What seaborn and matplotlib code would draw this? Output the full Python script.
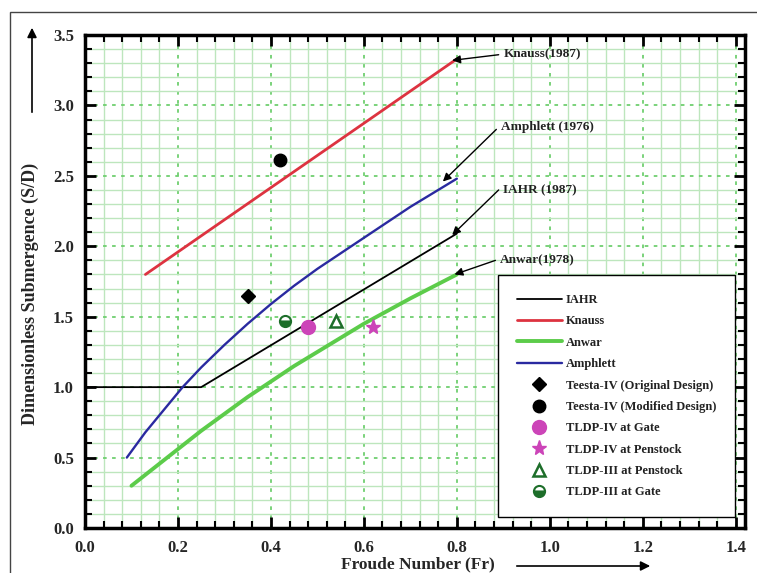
import numpy as np
import pandas as pd
import matplotlib
matplotlib.use('Agg')
import matplotlib.pyplot as plt
from matplotlib.patches import Rectangle
from matplotlib.ticker import MultipleLocator, FormatStrFormatter
import seaborn as sns

# Curves (Froude number vs S/D)
iahr_x = [0.0, 0.25, 0.80]
iahr_y = [1.0, 1.0, 2.09]

knauss_x = [0.13, 0.80]
knauss_y = [1.80, 3.33]

anwar_x = [0.10, 0.15, 0.20, 0.25, 0.30, 0.35, 0.40, 0.45, 0.50, 0.60, 0.70, 0.80]
anwar_y = [0.30, 0.43, 0.56, 0.69, 0.81, 0.93, 1.04, 1.15, 1.25, 1.45, 1.63, 1.80]

amphlett_x = [0.09, 0.11, 0.13, 0.15, 0.18, 0.21, 0.25, 0.30, 0.35, 0.40, 0.45, 0.50, 0.60, 0.70, 0.80]
amphlett_y = [0.50, 0.59, 0.68, 0.76, 0.88, 1.00, 1.14, 1.30, 1.45, 1.59, 1.72, 1.84, 2.06, 2.28, 2.48]

# Test points
teesta_orig = (0.35, 1.65)
teesta_mod = (0.42, 2.61)
tldp4_gate = (0.48, 1.43)
tldp4_penstock = (0.62, 1.43)
tldp3_penstock = (0.54, 1.47)
tldp3_gate = (0.43, 1.47)

sns.set_theme(style='white')
plt.rcParams['font.family'] = ['Liberation Serif', 'DejaVu Serif']
plt.rcParams['font.weight'] = 'bold'

fig = plt.figure(figsize=(7.57, 5.73), dpi=100)
ax = fig.add_axes([85 / 757, 1 - 528 / 573, 660 / 757, 493 / 573])

curves = [
    ('IAHR', iahr_x, iahr_y, 'black', 1.3),
    ('Knauss', knauss_x, knauss_y, '#dd3340', 2.0),
    ('Anwar', anwar_x, anwar_y, '#5ccc4a', 2.8),
    ('Amphlett', amphlett_x, amphlett_y, '#2a2aa0', 1.7),
]
for name, xs, ys, col, lw in curves:
    d = pd.DataFrame({'Fr': xs, 'SD': ys})
    sns.lineplot(data=d, x='Fr', y='SD', ax=ax, color=col, lw=lw, sort=False,
                 estimator=None, label=name, zorder=4)

ax.plot(*teesta_orig, ls='none', marker='D', ms=7, color='black', label='Teesta-IV (Original Design)', zorder=5)
ax.plot(*teesta_mod, ls='none', marker='o', ms=9, color='black', label='Teesta-IV (Modified Design)', zorder=5)
ax.plot(*tldp4_gate, ls='none', marker='o', ms=10, color='#cc44b8', label='TLDP-IV at Gate', zorder=5)
ax.plot(*tldp4_penstock, ls='none', marker='*', ms=11, color='#cc44b8', label='TLDP-IV at Penstock', zorder=5)
ax.plot(*tldp3_penstock, ls='none', marker='^', ms=8, mfc='white', mec='#1d6e2a', mew=1.8,
        label='TLDP-III at Penstock', zorder=5)
ax.plot(*tldp3_gate, ls='none', marker='o', ms=8, fillstyle='bottom', mfc='#1d6e2a',
        markerfacecoloralt='white', mec='#1d6e2a', mew=1.5, label='TLDP-III at Gate', zorder=5)

ax.set_xlim(0, 1.42)
ax.set_ylim(0, 3.5)
ax.xaxis.set_major_locator(MultipleLocator(0.2))
ax.xaxis.set_minor_locator(MultipleLocator(0.04))
ax.yaxis.set_major_locator(MultipleLocator(0.5))
ax.yaxis.set_minor_locator(MultipleLocator(0.1))
ax.xaxis.set_major_formatter(FormatStrFormatter('%.1f'))
ax.yaxis.set_major_formatter(FormatStrFormatter('%.1f'))

ax.grid(which='minor', color='#bde6bd', lw=1.0, ls='-', zorder=0)
ax.grid(which='major', color='#6fcf6f', lw=1.3, ls=(0, (2, 3)), zorder=1)
ax.set_axisbelow(True)

ax.tick_params(which='both', direction='in', top=True, right=True, bottom=True, left=True, color='black')
ax.tick_params(which='major', length=8, width=2)
ax.tick_params(which='minor', length=5, width=1.5)
ax.tick_params(axis='x', which='major', pad=9, labelsize=12)
ax.tick_params(axis='y', which='major', pad=8, labelsize=12)
for lab in ax.get_xticklabels() + ax.get_yticklabels():
    lab.set_fontweight('bold')
for sp in ax.spines.values():
    sp.set_visible(True)
    sp.set_color('black')
    sp.set_linewidth(2.5)

ax.set_xlabel('')
ax.set_ylabel('')

# annotations pointing at curve ends
arrow = dict(arrowstyle='-|>', color='black', lw=1.0, mutation_scale=12, shrinkA=0, shrinkB=0)
notes = [
    ('Knauss(1987)', (0.79, 3.32), (0.90, 3.36)),
    ('Amphlett (1976)', (0.77, 2.46), (0.895, 2.85)),
    ('IAHR (1987)', (0.79, 2.08), (0.90, 2.40)),
    ('Anwar(1978)', (0.795, 1.80), (0.893, 1.90)),
]
for txt, xy, xyt in notes:
    ax.annotate('', xy=xy, xytext=(xyt[0] - 0.01, xyt[1] - 0.02 if txt.startswith('Amph') else xyt[1]),
                arrowprops=arrow, zorder=6)
    ax.text(xyt[0], xyt[1], txt, fontsize=9.5, fontweight='bold', color='#222222',
            ha='left', va='center', zorder=6)

leg = ax.legend(loc='lower right', bbox_to_anchor=(0.985, 0.022), borderaxespad=0,
                fontsize=9, frameon=True, fancybox=False, edgecolor='black',
                framealpha=1, handlelength=3.6, handletextpad=0.35, labelspacing=0.75,
                borderpad=1.5, numpoints=1)
leg.get_frame().set_linewidth(1.0)
for t in leg.get_texts():
    t.set_fontweight('bold')
    t.set_color('#222222')

# figure frame, axis titles and arrows
fig.patches.append(Rectangle((10 / 757, -0.05), 1.1, 1 - 11.5 / 573 + 0.05, transform=fig.transFigure,
                             fill=False, edgecolor='#444444', lw=1.0))
fig.text(30 / 757, 1 - 294 / 573, 'Dimensionless Submergence (S/D)', rotation=90,
         ha='center', va='center', fontsize=13, fontweight='bold')
fig.text(418 / 757, 1 / 573, 'Froude Number (Fr)', ha='center', va='bottom',
         fontsize=12.5, fontweight='bold')
ax.annotate('', xy=(32 / 757, 1 - 25 / 573), xytext=(32 / 757, 1 - 115 / 573),
            xycoords='figure fraction', textcoords='figure fraction',
            arrowprops=dict(arrowstyle='-|>', color='black', lw=1.2, mutation_scale=14))
ax.annotate('', xy=(653 / 757, 1 - 566 / 573), xytext=(514 / 757, 1 - 566 / 573),
            xycoords='figure fraction', textcoords='figure fraction',
            arrowprops=dict(arrowstyle='-|>', color='black', lw=1.2, mutation_scale=14))

fig.savefig('out.png', dpi=100)
